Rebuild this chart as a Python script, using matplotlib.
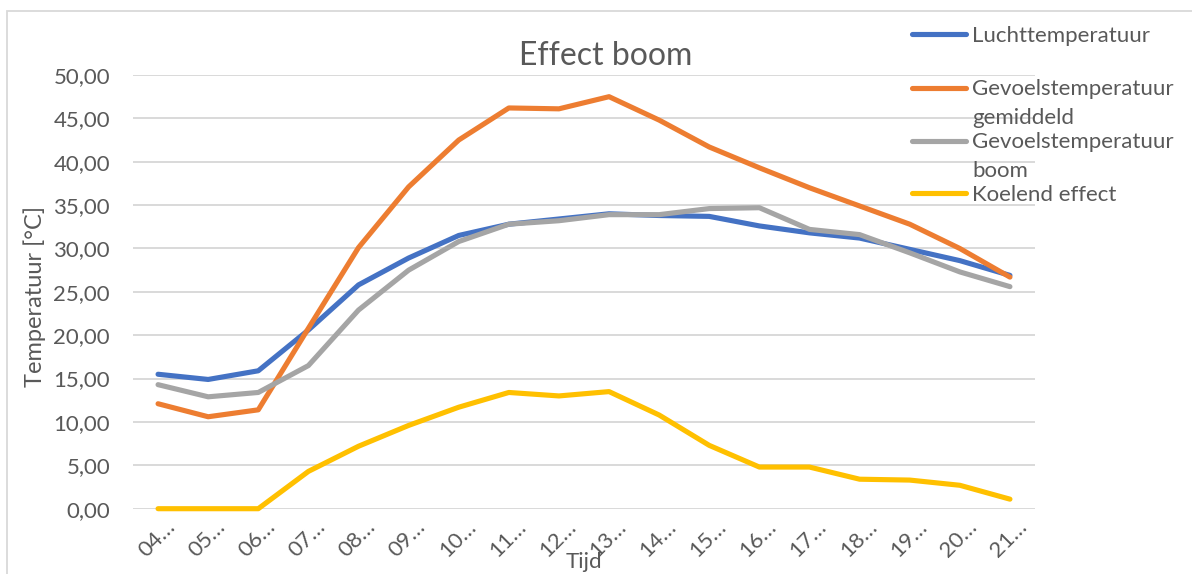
import matplotlib
matplotlib.use("Agg")
import matplotlib.pyplot as plt
from matplotlib.lines import Line2D
from matplotlib.patches import Rectangle
import matplotlib.transforms as mtransforms

# Hourly measurements (04:00 .. 21:00)
tijd = ["04…", "05…", "06…", "07…", "08…", "09…", "10…", "11…", "12…",
        "13…", "14…", "15…", "16…", "17…", "18…", "19…", "20…", "21…"]
luchttemperatuur = [15.5, 14.9, 15.9, 20.6, 25.8, 28.9, 31.5, 32.8, 33.4,
                    34.0, 33.8, 33.7, 32.6, 31.8, 31.2, 29.9, 28.6, 26.9]
gevoel_gemiddeld = [12.1, 10.6, 11.4, 20.8, 30.1, 37.1, 42.5, 46.2, 46.1,
                    47.5, 44.8, 41.7, 39.3, 37.0, 34.9, 32.8, 30.0, 26.7]
gevoel_boom = [14.3, 12.9, 13.4, 16.5, 22.9, 27.5, 30.8, 32.8, 33.2,
               33.9, 33.9, 34.6, 34.7, 32.2, 31.6, 29.5, 27.3, 25.6]
koelend_effect = [0.0, 0.0, 0.0, 4.3, 7.2, 9.6, 11.7, 13.4, 13.0,
                  13.5, 10.8, 7.3, 4.8, 4.8, 3.4, 3.3, 2.7, 1.1]

series = [
    ("Luchttemperatuur", luchttemperatuur, "#4472C4"),
    ("Gevoelstemperatuur\ngemiddeld", gevoel_gemiddeld, "#ED7D31"),
    ("Gevoelstemperatuur\nboom", gevoel_boom, "#A5A5A5"),
    ("Koelend effect", koelend_effect, "#FFC000"),
]
yticks = [0, 5, 10, 15, 20, 25, 30, 35, 40, 45, 50]

TXT = "#595959"
GRID = "#D9D9D9"
FS = 16
plt.rcParams["font.family"] = ["Lato", "DejaVu Sans"]

W, H = 1192, 574
fig = plt.figure(figsize=(W / 100, H / 100), dpi=100)

# Chart area frame
fig.patches.append(Rectangle((7.5 / W, -0.05), 1.2, 1 - 10.5 / H + 0.05,
                             transform=fig.transFigure, fill=False,
                             edgecolor=GRID, lw=1.3))

ax = fig.add_axes([133 / W, 65.3 / H, 902 / W, 433.7 / H])
x = list(range(len(tijd)))
for label, vals, color in series:
    ax.plot(x, vals, color=color, lw=3.7, solid_capstyle="round",
            solid_joinstyle="round", clip_on=False, zorder=3)

ax.set_xlim(-0.5, len(tijd) - 0.5)
ax.set_ylim(0, 50)
ax.set_yticks(yticks)
ax.set_yticklabels([f"{v:.2f}".replace(".", ",") for v in yticks])
ax.grid(axis="y", color=GRID, lw=1.4)
ax.set_axisbelow(True)
for s in ax.spines.values():
    s.set_visible(False)
ax.tick_params(axis="both", length=0, labelsize=FS, labelcolor=TXT)
ax.tick_params(axis="y", pad=16.5)

ax.set_xticks(x)
ax.set_xticklabels(tijd, rotation=45, ha="right", va="center",
                   rotation_mode="anchor")
offset = mtransforms.ScaledTranslation(14 / 100, -10 / 100, fig.dpi_scale_trans)
for lbl in ax.get_xticklabels():
    lbl.set_transform(lbl.get_transform() + offset)

ax.set_ylabel("Temperatuur [°C]", fontsize=17, color=TXT)
ax.yaxis.set_label_coords(-0.097, 0.49)
ax.set_xlabel("Tijd", fontsize=FS, color=TXT, va="center")
ax.xaxis.set_label_coords(0.5, -0.123)

fig.text(606 / W, 1 - 65 / H, "Effect boom", ha="center", va="baseline",
         fontsize=23, color=TXT)

# Legend on the right
legend_rows = [(34, 41.7), (87.7, 95), (141, 148.3), (193.3, 201)]
for (ly, by), (label, vals, color) in zip(legend_rows, series):
    fig.lines.append(Line2D([912 / W, 966 / W], [1 - ly / H, 1 - ly / H],
                            transform=fig.transFigure, color=color, lw=3.7,
                            solid_capstyle="round"))
    for k, line in enumerate(label.split("\n")):
        fig.text(972 / W, 1 - (by + 28.5 * k) / H, line, ha="left",
                 va="baseline", fontsize=FS, color=TXT)

fig.savefig("out.png", dpi=100)
